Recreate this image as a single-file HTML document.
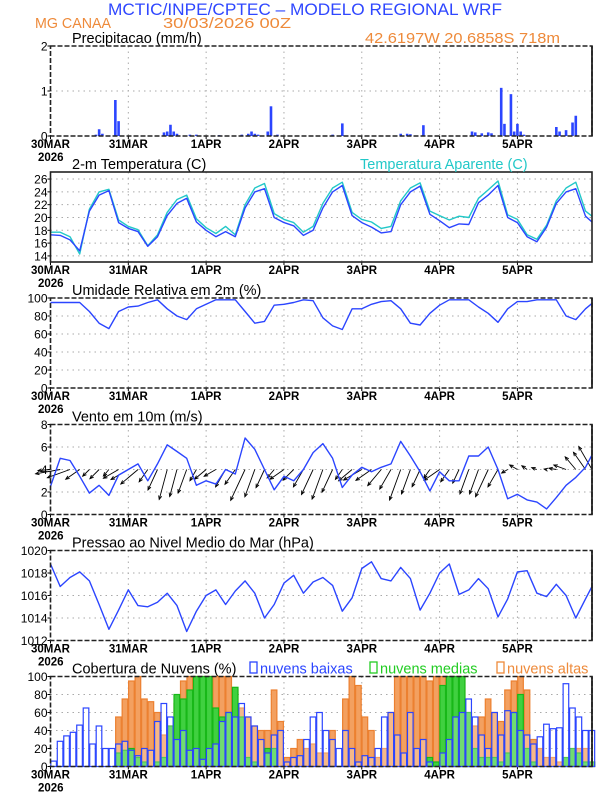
<!DOCTYPE html>
<html><head><meta charset="utf-8"><style>
html,body{margin:0;padding:0;background:#fff}
svg{display:block;font-family:"Liberation Sans",sans-serif}
</style></head><body>
<svg id="chart" width="612" height="792" viewBox="0 0 612 792" xmlns="http://www.w3.org/2000/svg">
<text x="305" y="15" text-anchor="middle" font-size="17" fill="#2f47ff" textLength="394" lengthAdjust="spacingAndGlyphs">MCTIC/INPE/CPTEC – MODELO REGIONAL WRF</text>
<text x="35" y="28" font-size="15" fill="#ee8a3a" textLength="76" lengthAdjust="spacingAndGlyphs">MG CANAA</text>
<text x="163" y="28" font-size="15" fill="#ee8a3a" textLength="128" lengthAdjust="spacingAndGlyphs">30/03/2026 00Z</text>
<text x="365" y="43" font-size="15" fill="#ee8a3a" textLength="195" lengthAdjust="spacingAndGlyphs">42.6197W 20.6858S 718m</text>
<g id="plots"></g>
</svg>
<script>
// ---------- data ----------
const dayLabels = ["30MAR","31MAR","1APR","2APR","3APR","4APR","5APR"];
const lineHours = [0,3,6,9,12,15,18,21,24,27,30,33,36,39,42,45,48,51,54,57,60,63,66,69,72,75,78,81,84,87,90,93,96,99,102,105,108,111,114,117,120,123,126,129,132,135,138,141,144,147,150,153,156,159,162,165,167];
const tempVals = [17.3,17.2,16.5,14.8,21.0,23.5,24.2,19.2, 18.3,17.8,15.5,17.0,20.3,22.2,23.0,19.3, 18.0,17.0,17.8,17.0,21.5,24.0,24.5,20.0, 19.2,18.7,17.2,18.0,21.5,24.0,25.0,20.3, 19.2,18.5,17.6,17.8,22.0,24.0,24.9,20.5, 19.5,18.4,19.0,18.9,22.3,23.5,25.0,20.0, 19.2,17.0,16.2,18.5,22.2,24.0,24.5,20.2,19.3];
const apparentVals = [17.7,17.7,17.0,14.3,21.3,24.0,24.4,19.6, 18.6,18.1,15.6,17.3,20.8,22.8,23.5,19.8, 18.4,17.5,18.6,17.3,22.0,24.6,25.3,20.6, 19.7,19.2,17.7,18.6,22.2,24.6,25.5,20.8, 19.7,19.3,18.3,18.6,22.6,24.6,25.4,21.0, 20.3,19.6,20.2,20.0,23.0,24.3,25.7,20.4, 19.7,17.3,16.6,18.8,22.6,24.6,25.5,21.0,20.2];
const rhVals = [95,95,95,95,85,72,66,85, 90,91,95,98,88,80,76,88, 93,98,98,98,85,72,74,92, 93,95,98,97,78,69,65,88, 88,93,96,97,88,72,70,83, 92,98,98,98,90,83,73,88, 96,96,98,98,98,80,76,88,94];
const windVals = [2.5,5.0,4.8,3.4,1.9,2.6,1.7,3.5, 4.0,4.5,3.0,4.5,6.2,5.6,5.0,2.6, 3.0,2.7,4.0,3.6,6.8,5.8,4.0,2.2, 3.4,3.0,4.0,5.5,6.3,5.0,2.4,3.5, 4.2,3.8,4.2,4.5,6.5,5.2,3.8,2.1, 3.8,3.0,3.0,5.2,5.2,6.0,4.0,1.4, 1.8,1.3,1.1,0.5,1.5,2.6,3.3,4.2,5.3];
const windDirFrom = [85,80,70,55,45,45,40,60, 60,50,35,25,15,15,20,30, 50,60,30,35,25,20,25,40, 55,45,30,25,20,25,35,50, 60,55,40,30,20,20,25,35, 55,35,25,20,20,25,30,60, 120,125,110,100,100,110,140,145,150];
const pressVals = [1018.8,1016.8,1017.6,1018.1,1017.3,1015.2,1013.0,1014.7, 1016.5,1015.1,1015.0,1015.4,1016.2,1015.1,1012.8,1014.6, 1016.0,1016.5,1015.2,1016.4,1017.3,1016.2,1014.0,1015.2, 1017.1,1017.8,1016.2,1017.2,1017.6,1016.9,1014.6,1015.8, 1018.4,1019.0,1017.5,1017.3,1018.5,1017.5,1014.7,1016.2, 1018.0,1018.8,1016.1,1016.5,1017.5,1016.6,1014.1,1015.7, 1018.1,1018.2,1016.2,1015.9,1017.0,1016.0,1014.0,1015.7,1016.8];
const precipHours = [14,15,16,20,21,35,36,37,38,39,43,45,52,59,61,62,63,64,67,68,70,87,90,108,110,111,115,130,131,133,135,136,139,140,142,143,144,145,146,156,157,159,161,162];
const precipVals = [0.03,0.15,0.05,0.80,0.33,0.08,0.10,0.25,0.10,0.05,0.03,0.03,0.02,0.03,0.05,0.10,0.05,0.03,0.10,0.66,0.03,0.03,0.28,0.05,0.05,0.04,0.24,0.10,0.08,0.06,0.08,0.06,1.07,0.27,0.93,0.10,0.27,0.10,0.03,0.20,0.10,0.13,0.30,0.45];
const cloudHours = [0,2,4,6,8,10,12,14,16,18,20,22,24,26,28,30,32,34,36,38,40,42,44,46,48,50,52,54,56,58,60,62,64,66,68,70,72,74,76,78,80,82,84,86,88,90,92,94,96,98,100,102,104,106,108,110,112,114,116,118,120,122,124,126,128,130,132,134,136,138,140,142,144,146,148,150,152,154,156,158,160,162,164,166];
const cloudLow = [6,28,34,38,46,65,25,45,20,20,25,28, 18,12,20,18,50,70,55,30,40,18,20,8, 20,25,50,60,55,70,55,45,30,15,35,40, 5,10,12,30,55,60,40,30,20,40,20,5, 12,10,20,55,60,35,15,60,20,30,5,0, 15,30,55,60,75,55,35,20,60,35,62,60, 40,35,25,33,47,42,43,92,65,55,40,40];
const cloudMid = [0,0,0,0,0,0,0,0,0,0,15,18, 20,10,5,0,5,10,45,80,75,85,100,100, 100,65,55,60,88,55,10,5,0,20,20,0, 0,0,0,0,0,0,0,0,0,0,0,0, 0,0,0,0,0,0,0,0,0,0,10,5, 90,100,100,100,60,20,10,10,10,5,15,60, 80,20,5,0,0,0,0,10,20,15,5,5];
const cloudHigh = [0,0,0,0,0,0,0,0,0,0,55,75, 95,100,75,72,60,35,45,70,95,100,100,100, 100,100,100,100,85,65,55,45,40,40,85,50, 10,20,30,20,25,15,15,40,0,75,100,90, 55,40,10,20,60,100,100,100,100,100,95,100, 100,100,100,100,60,45,55,75,60,50,85,95, 100,85,30,20,10,10,5,0,15,20,20,5];

// ---------- helpers ----------
const NS = "http://www.w3.org/2000/svg";
const root = document.getElementById("plots");
const L = 50.5, R = 592, H = 90, NH = 167;
const xh = h => L + h * (R - L) / NH;
function mk(tag, attrs, parent) {
  const e = document.createElementNS(NS, tag);
  for (const k in attrs) e.setAttribute(k, attrs[k]);
  (parent || root).appendChild(e);
  return e;
}
function panel(name, top, ymin, ymax, ticks, title, solid) {
  const g = mk("g", {});
  
  
  const y = v => top + H - (v - ymin) / (ymax - ymin) * H;
  ticks.forEach(t => {
    if (t > ymin && t < ymax) {
      const gl = mk("line", {x1: L, x2: R, y1: y(t), y2: y(t), stroke: "#aaa", "stroke-width": 1, "stroke-dasharray": "1.5,4"}, g);
      
      
    }
    const tl = mk("text", {x: L - 3, y: y(t) + 4.5, "text-anchor": "end", "font-size": 12, fill: "#000"}, g);
    tl.textContent = t;
    
    
    mk("line", {x1: L - 3, x2: L, y1: y(t), y2: y(t), stroke: "#000"}, g);
  });
  for (let d = 1; d < 7; d++) {
    const vl = mk("line", {x1: xh(d * 24), x2: xh(d * 24), y1: top, y2: top + H, stroke: "#aaa", "stroke-width": 1, "stroke-dasharray": "1.5,4"}, g);
    
    
  }
  for (let d = 0; d < 7; d++) {
    const xl = mk("text", {x: xh(d * 24), y: top + H + 12, "text-anchor": "middle", "font-size": 11.5, fill: "#000", "font-family": "Liberation Sans Narrow, Liberation Sans, sans-serif", "font-weight": "bold"}, g);
    xl.textContent = dayLabels[d];
    
    
    mk("line", {x1: xh(d * 24), x2: xh(d * 24), y1: top + H, y2: top + H + 3, stroke: "#000"}, g);
  }
  const yr = mk("text", {x: 38, y: top + H + 25, "font-size": 11.5, fill: "#000", "font-family": "Liberation Sans Narrow, Liberation Sans, sans-serif", "font-weight": "bold"}, g);
  yr.textContent = "2026";
  
  
  const tt = mk("text", {x: 72, y: top - 3, "font-size": 14.5, fill: "#000"}, g);
  tt.textContent = title;
  
  
  const plot = mk("g", {}, g);
  
  
  return {g, plot, y, top, drawFrame: () => {
    const fr = mk("rect", {x: L, y: top, width: R - L, height: H, fill: "none", stroke: "#222", "stroke-width": 1.6, "stroke-dasharray": solid ? "none" : "5,2"}, g);
    
    
    if (!solid) mk("line", {x1: R, x2: R, y1: top, y2: top + H, stroke: "#222", "stroke-width": 1.8}, g);
  }};
}
function line(p, vals, color, name, w) {
  const d = vals.map((v, i) => (i ? "L" : "M") + xh(lineHours[i]).toFixed(1) + "," + p.y(v).toFixed(1)).join("");
  const e = mk("path", {d, fill: "none", stroke: color, "stroke-width": w || 1.4, "stroke-linejoin": "round"}, p.plot);
  
  
}

// ---------- precipitation ----------
const pP = panel("precipitation", 46, 0, 2, [0,1,2], "Precipitacao (mm/h)", false);
precipHours.forEach((h, i) => {
  const b = mk("rect", {x: xh(h) - 1.3, y: pP.y(precipVals[i]), width: 2.6, height: pP.y(0) - pP.y(precipVals[i]), fill: "#2b45ff"}, pP.plot);
  
  
});
pP.drawFrame();

// ---------- temperature ----------
const pT = panel("temperature", 172, 13.05, 27.1, [14,16,18,20,22,24,26], "2-m Temperatura (C)", true);
line(pT, apparentVals, "#22c8c8", "apparent-temperature-line");
line(pT, tempVals, "#2b45ff", "temperature-line");
const ap = mk("text", {x: 360, y: 169, "font-size": 14.5, fill: "#22c8c8"});
ap.textContent = "Temperatura Aparente (C)";


pT.drawFrame();

// ---------- humidity ----------
const pH = panel("humidity", 298, 0, 100, [0,20,40,60,80,100], "Umidade Relativa em 2m (%)", false);
line(pH, rhVals, "#2b45ff", "humidity-line");
pH.drawFrame();

// ---------- wind ----------
const pW = panel("wind", 424.5, 0, 8, [0,2,4,6,8], "Vento em 10m (m/s)", false);
const baseY = pW.y(4);
windVals.forEach((s, i) => {
  const x0 = xh(lineHours[i]);
  const to = (windDirFrom[i] + 180) * Math.PI / 180;
  const len = s * 5;
  const x1 = x0 + Math.sin(to) * len, y1 = baseY - Math.cos(to) * len;
  const g = mk("g", {}, pW.plot);
  
  
  mk("line", {x1: x0, y1: baseY, x2: x1, y2: y1, stroke: "#000", "stroke-width": 0.9}, g);
  const a = Math.atan2(y1 - baseY, x1 - x0);
  const hl = 4;
  mk("path", {d: `M${x1 - hl*Math.cos(a-0.4)},${y1 - hl*Math.sin(a-0.4)}L${x1},${y1}L${x1 - hl*Math.cos(a+0.4)},${y1 - hl*Math.sin(a+0.4)}`, fill: "none", stroke: "#000", "stroke-width": 0.9}, g);
});
line(pW, windVals, "#2b45ff", "wind-speed-line");
pW.drawFrame();

// ---------- pressure ----------
const pS = panel("pressure", 550.5, 1012, 1020, [1012,1014,1016,1018,1020], "Pressao ao Nivel Medio do Mar (hPa)", false);
line(pS, pressVals, "#2b45ff", "pressure-line");
pS.drawFrame();

// ---------- clouds ----------
const pC = panel("clouds", 676.5, 0, 100, [0,20,40,60,80,100], "Cobertura de Nuvens (%)", false);
function cbars(vals, fill, stroke, name, op) {
  cloudHours.forEach((h, i) => {
    if (vals[i] <= 0) return;
    const b = mk("rect", {x: xh(h) + 0.3, y: pC.y(vals[i]), width: 5.6, height: pC.y(0) - pC.y(vals[i]), fill, "fill-opacity": op, stroke, "stroke-width": 1.2}, pC.plot);
    
    
  });
}
cbars(cloudHigh, "#f3a060", "#ec8030", "high-cloud-bar", 1);
cbars(cloudMid, "#40d040", "#18b818", "mid-cloud-bar", 1);
cbars(cloudLow, "#ffffff", "#2b45ff", "low-cloud-bar", 0.25);
pC.drawFrame();
const leg = [["nuvens baixas", "#2b45ff", 250], ["nuvens medias", "#22cc22", 370], ["nuvens altas", "#ee8a3a", 497]];
leg.forEach(l => {
  const g = mk("g", {});
  
  
  mk("rect", {x: l[2], y: 662, width: 7, height: 11, fill: "none", stroke: l[1], "stroke-width": 1.3}, g);
  const t = mk("text", {x: l[2] + 10, y: 673.5, "font-size": 14.5, fill: l[1]}, g);
  t.textContent = l[0];
});
</script>
</body></html>
